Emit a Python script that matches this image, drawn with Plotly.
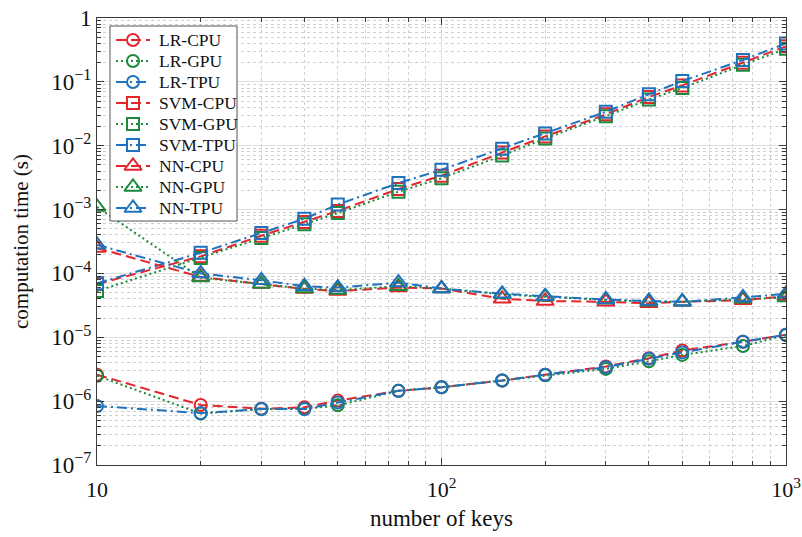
import plotly.graph_objects as go

keys = [10, 20, 30, 40, 50, 75, 100, 150, 200, 300, 400, 500, 750, 1000]

lr_cpu = [2.6e-6, 8.7e-7, 7.6e-7, 8.0e-7, 1.02e-6, 1.45e-6, 1.65e-6, 2.1e-6, 2.6e-6, 3.5e-6, 4.7e-6, 6.2e-6, 8.5e-6, 1.1e-5]
lr_gpu = [2.5e-6, 6.4e-7, 7.5e-7, 7.6e-7, 8.6e-7, 1.45e-6, 1.65e-6, 2.1e-6, 2.55e-6, 3.2e-6, 4.2e-6, 5.3e-6, 7.3e-6, 1.08e-5]
lr_tpu = [8.4e-7, 6.5e-7, 7.5e-7, 7.5e-7, 9.5e-7, 1.45e-6, 1.65e-6, 2.1e-6, 2.6e-6, 3.4e-6, 4.6e-6, 5.8e-6, 8.5e-6, 1.1e-5]

svm_cpu = [6.8e-5, 1.85e-4, 3.9e-4, 6.4e-4, 9.5e-4, 2.1e-3, 3.4e-3, 7.8e-3, 1.4e-2, 3.1e-2, 5.8e-2, 8.8e-2, 2.0e-1, 3.6e-1]
svm_gpu = [5.3e-5, 1.75e-4, 3.6e-4, 5.9e-4, 8.8e-4, 1.9e-3, 3.1e-3, 7.0e-3, 1.3e-2, 2.9e-2, 5.3e-2, 8.0e-2, 1.85e-1, 3.3e-1]
svm_tpu = [7.0e-5, 2.1e-4, 4.3e-4, 7.2e-4, 1.2e-3, 2.6e-3, 4.2e-3, 9.0e-3, 1.55e-2, 3.4e-2, 6.4e-2, 1.03e-1, 2.2e-1, 4.0e-1]

nn_cpu = [2.5e-4, 8.8e-5, 6.8e-5, 5.7e-5, 5.3e-5, 6.0e-5, 5.8e-5, 4.0e-5, 3.7e-5, 3.6e-5, 3.4e-5, 3.6e-5, 3.8e-5, 4.4e-5]
nn_gpu = [1.1e-3, 8.6e-5, 6.8e-5, 5.8e-5, 5.5e-5, 6.3e-5, 5.8e-5, 4.7e-5, 4.3e-5, 3.9e-5, 3.6e-5, 3.6e-5, 4.0e-5, 4.2e-5]
nn_tpu = [2.8e-4, 1.0e-4, 7.8e-5, 6.3e-5, 6.0e-5, 7.2e-5, 5.8e-5, 4.8e-5, 4.4e-5, 3.9e-5, 3.7e-5, 3.6e-5, 4.2e-5, 4.8e-5]

x_tick_vals = [10, 100, 1000]
x_tick_text = ["10", "10<sup>2</sup>", "10<sup>3</sup>"]
y_tick_vals = [1e-7, 1e-6, 1e-5, 1e-4, 1e-3, 1e-2, 1e-1, 1]
y_exps = ["−7", "−6", "−5", "−4", "−3", "−2", "−1"]
y_tick_text = ["10<sup>%s</sup>" % e for e in y_exps] + ["1"]

RED = "#e4252c"
GREEN = "#1c8a3c"
BLUE = "#1f72bd"
DASH = "10px,5px"
DOT = "2px,3px"
DASHDOT = "10px,4px,2px,4px"

series = [
    ("LR-CPU", lr_cpu, RED, DASH, "circle-open"),
    ("LR-GPU", lr_gpu, GREEN, DOT, "circle-open"),
    ("LR-TPU", lr_tpu, BLUE, DASHDOT, "circle-open"),
    ("SVM-CPU", svm_cpu, RED, DASH, "square-open"),
    ("SVM-GPU", svm_gpu, GREEN, DOT, "square-open"),
    ("SVM-TPU", svm_tpu, BLUE, DASHDOT, "square-open"),
    ("NN-CPU", nn_cpu, RED, DASH, "triangle-up-open"),
    ("NN-GPU", nn_gpu, GREEN, DOT, "triangle-up-open"),
    ("NN-TPU", nn_tpu, BLUE, DASHDOT, "triangle-up-open"),
]

FONT = "Liberation Serif"

fig = go.Figure()
for name, vals, color, dash, sym in series:
    size = 15 if "triangle" in sym else 12
    fig.add_trace(go.Scatter(
        x=keys, y=vals, name=name, mode="lines+markers", showlegend=False,
        line=dict(color=color, dash=dash, width=2),
        marker=dict(symbol=sym, size=size, color=color, line=dict(color=color, width=2)),
    ))

# ---- compact MATLAB-style legend drawn on an overlay axis measured in pixels ----
W, H = 802, 537
L, R, T, B = 97, 16, 18, 72
box_x0, box_x1, box_y0, box_y1 = 110, 237, 26, 221
row0, pitch = 40, 21
line_x0, line_x1, mark_x, text_x = 116, 150, 133, 157

fig.add_trace(go.Scatter(
    x=[box_x0, box_x1, box_x1, box_x0, box_x0], y=[box_y0, box_y0, box_y1, box_y1, box_y0],
    mode="lines", fill="toself", fillcolor="white", line=dict(color="#555", width=1),
    xaxis="x2", yaxis="y2", showlegend=False, hoverinfo="skip"))

for i, (name, vals, color, dash, sym) in enumerate(series):
    yy = row0 + pitch * i
    size = 15 if "triangle" in sym else 12
    fig.add_trace(go.Scatter(
        x=[line_x0, mark_x, line_x1], y=[yy, yy, yy], mode="lines+markers",
        line=dict(color=color, dash=dash, width=2),
        marker=dict(symbol=sym, size=size, color=color, opacity=[0, 1, 0],
                    line=dict(color=color, width=2)),
        xaxis="x2", yaxis="y2", showlegend=False, hoverinfo="skip", name=name))
    fig.add_annotation(x=text_x, y=yy, xref="x2", yref="y2", text=name, showarrow=False,
                       xanchor="left", yanchor="middle",
                       font=dict(family=FONT, size=17.5, color="#111"))

# minor tick positions for log axes (2..9 within each decade)
x_minor = [m * 10 ** e for e in range(1, 3) for m in range(2, 10)]
y_minor = [m * 10.0 ** e for e in range(-7, 0) for m in range(2, 10)]

def axis_style(minor_vals, fsize):
    return dict(
        showline=True, linecolor="#3a3a3a", linewidth=1, mirror="allticks",
        ticks="inside", ticklen=7, tickcolor="#3a3a3a",
        showgrid=True, gridcolor="#dedede", gridwidth=1,
        zeroline=False,
        tickfont=dict(family=FONT, size=fsize, color="#111"),
        minor=dict(tickmode="array", tickvals=minor_vals, ticks="inside", ticklen=4,
                   tickcolor="#3a3a3a", showgrid=True, gridcolor="#cfcfcf",
                   griddash="dot", gridwidth=1),
    )

fig.update_layout(
    xaxis=dict(type="log", range=[1, 3], tickvals=x_tick_vals, ticktext=x_tick_text,
               ticklabelstandoff=5,
               title=dict(text="number of keys", font=dict(family=FONT, size=23, color="#111"), standoff=8),
               automargin=False, **axis_style(x_minor, 22)),
    yaxis=dict(type="log", range=[-7, 0], tickvals=y_tick_vals, ticktext=y_tick_text,
               title=dict(text="computation time (s)", font=dict(family=FONT, size=21, color="#111"), standoff=16),
               automargin=False, **axis_style(y_minor, 23)),
    xaxis2=dict(overlaying="x", range=[L, W - R], visible=False, fixedrange=True),
    yaxis2=dict(overlaying="y", range=[H - B, T], visible=False, fixedrange=True),
    width=W, height=H,
    margin=dict(l=L, r=R, t=T, b=B),
    plot_bgcolor="white", paper_bgcolor="white",
    font=dict(family=FONT, color="#111"),
    showlegend=False,
)

fig.write_html("out.html")
